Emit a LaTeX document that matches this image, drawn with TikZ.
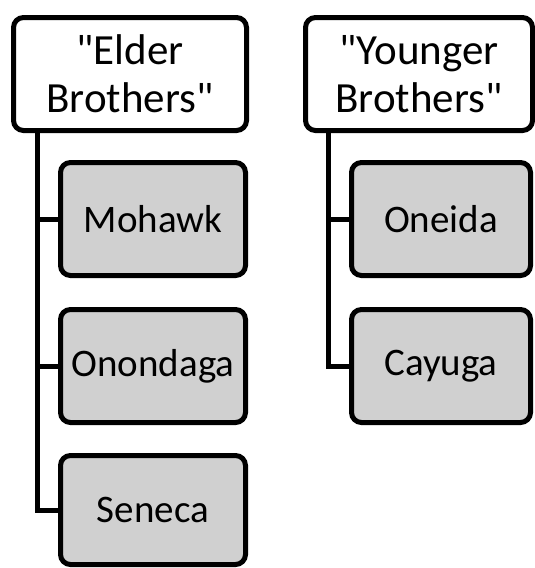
\documentclass[tikz,border=0pt]{standalone}
\usepackage{fontspec}
\newfontfamily\carl{Carlito}
\begin{document}
\begin{tikzpicture}[x=1pt,y=-1pt,
  box/.style={draw=black,line width=5pt,rounded corners=10pt,inner sep=0pt,align=center,
    font=\carl\fontsize{39}{45}\selectfont,minimum height=113pt},
  head/.style={box,fill=white,font=\carl\fontsize{43}{48}\selectfont},
  child/.style={box,fill=childgray},
  conn/.style={draw=black,line width=5pt}]
\definecolor{childgray}{HTML}{D0D0D0}
\useasboundingbox (0,0) rectangle (535,568);
\node[head,minimum width=233pt] (elder) at (130,74) {"Elder\\Brothers"};
\node[child,minimum width=185pt] (mohawk) at (153,219) {Mohawk};
\node[child,minimum width=185pt] (onondaga) at (153,366) {Onondaga};
\node[child,minimum width=185pt,minimum height=109pt] (seneca) at (153,510) {Seneca};
\node[head,minimum width=227pt] (younger) at (419,74) {"Younger\\Brothers"};
\node[child,minimum width=179pt] (oneida) at (441,219) {Oneida};
\node[child,minimum width=179pt] (cayuga) at (441,366) {Cayuga};
\coordinate (lx) at (37,0);
\coordinate (rx) at (328,0);
\draw[conn] (elder.south -| lx) |- (seneca.west);
\draw[conn] (elder.south -| lx) |- (mohawk.west);
\draw[conn] (elder.south -| lx) |- (onondaga.west);
\draw[conn] (younger.south -| rx) |- (cayuga.west);
\draw[conn] (younger.south -| rx) |- (oneida.west);
\end{tikzpicture}
\end{document}
